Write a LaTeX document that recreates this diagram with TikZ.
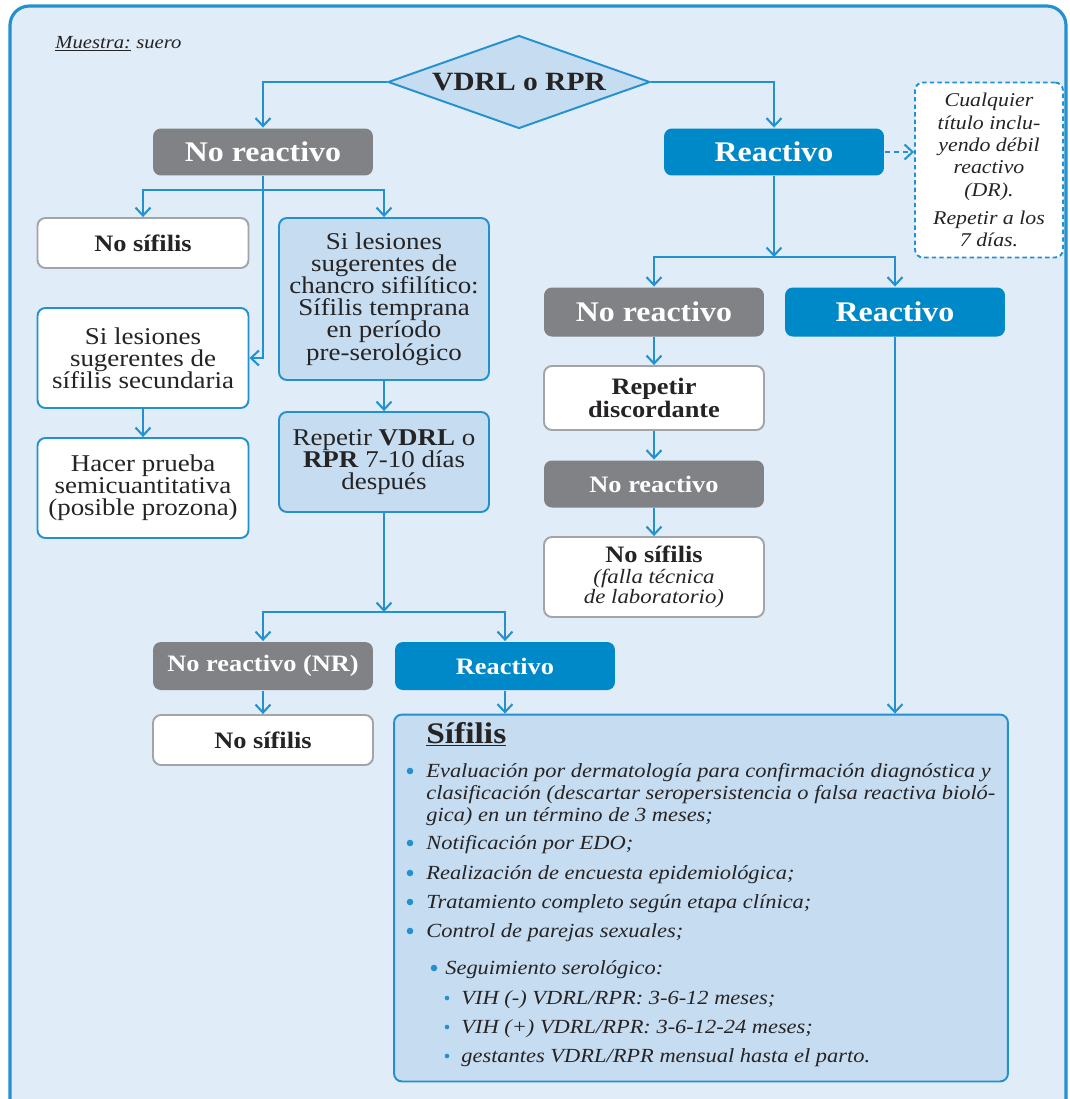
\documentclass[tikz,border=0pt]{standalone}
\usepackage{fontspec}
\setmainfont{Liberation Serif}[FakeStretch=1.12]
\usetikzlibrary{shapes.geometric,arrows.meta}

\definecolor{lineblue}{HTML}{2391CF}
\definecolor{bgblue}{HTML}{E0ECF7}
\definecolor{paleblue}{HTML}{C6DCF0}
\definecolor{solidblue}{HTML}{0089C8}
\definecolor{solidgray}{HTML}{808285}
\definecolor{rimgray}{HTML}{A2A4A7}
\definecolor{ink}{HTML}{262324}

\newcommand\hdfont{\fontsize{16.2}{18}\selectfont\bfseries\lineskiplimit=-8pt}
\newcommand\smhdfont{\fontsize{13.4}{13}\selectfont\bfseries\lineskiplimit=-8pt}
\newcommand\diafont{\fontsize{15}{17}\selectfont\bfseries}
\newcommand\bodyfont{\fontsize{13.7}{12.6}\selectfont\lineskiplimit=-8pt}
\newcommand\notefont{\fontsize{11.1}{12.75}\selectfont\itshape\lineskiplimit=-8pt}
\newcommand\labfont{\fontsize{11.6}{11.3}\selectfont\mdseries\itshape}
\newcommand\listfont{\fontsize{11.4}{12.5}\selectfont\itshape}

\tikzset{
  frame/.style={fill=bgblue, draw=lineblue, line width=1.8pt, rounded corners=11pt},
  box/.style={rectangle, rounded corners=4.5pt, align=center, inner sep=1pt,
    line width=1.1pt, text=ink, minimum width=4.4cm},
  graybox/.style={box, fill=solidgray, text=white, font=\hdfont},
  bluebox/.style={box, fill=solidblue, text=white, font=\hdfont},
  whitebox/.style={box, fill=white, draw=rimgray, font=\smhdfont},
  whiteblue/.style={box, fill=white, draw=lineblue, font=\bodyfont},
  palebox/.style={box, fill=paleblue, draw=lineblue, font=\bodyfont},
  notebox/.style={box, fill=white, draw=lineblue, dash pattern=on 2.5pt off 1.8pt, font=\notefont},
  decision/.style={diamond, aspect=2.8, fill=paleblue, draw=lineblue, line width=1.1pt,
    inner sep=0pt, font=\diafont, text=ink},
  arr/.style={draw=lineblue, line width=1.15pt, -{Straight Barb[length=1.6mm,width=3mm]}},
  bul/.style={fill=lineblue},
  listline/.style={anchor=base west, inner sep=0pt, text=ink, font=\listfont}
}

\begin{document}
\begin{tikzpicture}[x=0.02cm,y=-0.02cm]
\useasboundingbox (0,0) rectangle (1070,1099);
\clip (0,0) rectangle (1070,1099);
\draw[frame] (10,6) rectangle (1066,1130);

\node[anchor=base west, inner sep=0pt, text=ink, font=\fontsize{10.5}{12}\selectfont\itshape] (muestra) at (55,48) {\underline{Muestra:} suero};

% primera prueba
\node[decision, minimum width=5.24cm, minimum height=1.86cm] (vdrl) at (519,82) {VDRL o RPR};
\node[graybox, minimum height=0.94cm] (nr1) at (263,152) {No reactivo};
\node[bluebox, minimum height=0.94cm] (r1) at (774,152) {Reactivo};
\node[notebox, minimum width=2.96cm, minimum height=3.5cm] (nota) at (989,170) {Cualquier\\título inclu-\\yendo débil\\reactivo\\(DR).\\[3pt]Repetir a los\\7 días.};

% rama no reactiva
\node[whitebox, minimum width=4.22cm, minimum height=1cm] (nos1) at (143,243) {No sífilis};
\node[palebox, minimum width=4.2cm, minimum height=3.24cm] (chancro) at (384,299) {Si lesiones\\sugerentes de\\chancro sifilítico:\\Sífilis temprana\\en período\\pre-serológico};
\node[whiteblue, minimum width=4.22cm, minimum height=2cm] (secund) at (143,358) {Si lesiones\\sugerentes de\\sífilis secundaria};
\node[whiteblue, minimum width=4.22cm, minimum height=2cm] (hacer) at (143,488) {Hacer prueba\\semicuantitativa\\(posible prozona)};
\node[palebox, minimum width=4.2cm, minimum height=2cm] (repetir) at (384,462) {Repetir \textbf{VDRL} o\\\textbf{RPR} 7-10 días\\después};
\node[graybox, font=\smhdfont, minimum height=0.96cm] (nr4) at (263,666) {No reactivo (NR)};
\node[bluebox, font=\smhdfont, minimum height=0.96cm] (r4) at (505,666) {Reactivo};
\node[whitebox, minimum height=1cm] (nos4) at (263,740) {No sífilis};

% rama reactiva
\node[graybox, minimum height=0.98cm] (nr2) at (654,312) {No reactivo};
\node[bluebox, minimum height=0.98cm] (r2) at (895,312) {Reactivo};
\node[whitebox, minimum height=1.28cm] (discord) at (654,398) {Repetir\\discordante};
\node[graybox, font=\smhdfont, minimum height=0.94cm] (nr3) at (654,484) {No reactivo};
\node[whitebox, minimum height=1.6cm] (nos3) at (654,577) {No sífilis\\[-1.5pt]{\labfont(falla técnica}\\[-1.5pt]{\labfont de laboratorio)}};

% resultado
\node[palebox, minimum width=12.28cm, minimum height=7.34cm] (sifbox) at (701,898) {};
\node[anchor=base west, inner sep=0pt, text=ink, font=\fontsize{17}{19}\selectfont\bfseries] (sifhead) at (426,743) {\underline{Sífilis}};

% conectores
\draw[arr] (vdrl.west) -| (nr1.north);
\draw[arr] (vdrl.east) -| (r1.north);
\draw[arr, dash pattern=on 3pt off 2pt] (r1.east) -- (r1.east -| nota.west);

\coordinate (b1) at (263,190);
\draw[lineblue, line width=1.15pt] (nr1.south) -- (b1);
\draw[arr] (b1) -| (nos1.north);
\draw[arr] (b1) -| (chancro.north);
\draw[arr] (nr1.south) |- (secund.east);
\draw[arr] (secund) -- (hacer);
\draw[arr] (chancro) -- (repetir);

\coordinate (b2) at (384,612);
\draw[arr] (repetir) -- (b2);
\draw[arr] (b2) -| (nr4.north);
\draw[arr] (b2) -| (r4.north);
\draw[arr] (nr4) -- (nos4);
\draw[arr] (r4.south) -- (r4.south |- sifbox.north);

\coordinate (b3) at (774,257);
\draw[arr] (r1) -- (b3);
\draw[arr] (b3) -| (nr2.north);
\draw[arr] (b3) -| (r2.north);
\draw[arr] (nr2) -- (discord);
\draw[arr] (discord) -- (nr3);
\draw[arr] (nr3) -- (nos3);
\draw[arr] (r2.south) -- (r2.south |- sifbox.north);

% lista
\fill[bul] (410,771) circle (3.3);
\node[listline] (eval1) at (426,777) {Evaluación por dermatología para confirmación diagnóstica y};
\node[listline] (eval2) at (426,799) {clasificación (descartar seropersistencia o falsa reactiva bioló-};
\node[listline] (eval3) at (426,821) {gica) en un término de 3 meses;};
\fill[bul] (410,843) circle (3.3);
\node[listline] (edo) at (426,849) {Notificación por EDO;};
\fill[bul] (410,873) circle (3.3);
\node[listline] (encuesta) at (426,879) {Realización de encuesta epidemiológica;};
\fill[bul] (410,902) circle (3.3);
\node[listline] (trat) at (426,908) {Tratamiento completo según etapa clínica;};
\fill[bul] (410,931) circle (3.3);
\node[listline] (parejas) at (426,937) {Control de parejas sexuales;};
\fill[bul] (434,968) circle (3.3);
\node[listline] (segui) at (445,974) {Seguimiento serológico:};
\fill[bul] (447,998) circle (2.3);
\node[listline] (vihneg) at (461,1004) {VIH (-) VDRL/RPR: 3-6-12 meses;};
\fill[bul] (447,1027) circle (2.3);
\node[listline] (vihpos) at (461,1033) {VIH (+) VDRL/RPR: 3-6-12-24 meses;};
\fill[bul] (447,1056) circle (2.3);
\node[listline] (gest) at (461,1062) {gestantes VDRL/RPR mensual hasta el parto.};

\end{tikzpicture}
\end{document}
